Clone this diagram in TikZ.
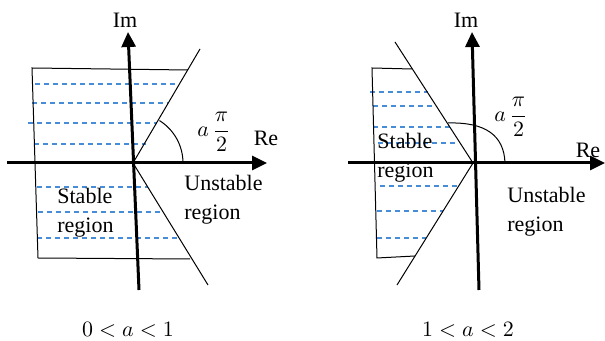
\documentclass[tikz,border=0pt]{standalone}
\usepackage{amsmath}
\usepackage{fontspec}
\setmainfont{Liberation Serif}
\usetikzlibrary{arrows.meta}
\definecolor{gridblue}{RGB}{70,140,215}
\tikzset{
  spaxis/.style={draw, line width=1.5pt, -{Triangle[length=7.5pt, width=7pt]}},
  spbound/.style={draw, line width=0.5pt},
  spgrid/.style={draw, gridblue, line width=0.7pt, dash pattern=on 2.5pt off 2pt},
  splabel/.style={font=\fontsize{11}{14.5}\selectfont, inner sep=0pt},
  spregion/.style={splabel, anchor=west, align=left}
}

\begin{document}
\begin{tikzpicture}[x=0.5pt, y=-0.5pt]
  \useasboundingbox (0,0) rectangle (605,341);
  % name/x/y, in pixels of the picture, y down
  \foreach \n/\x/\y in {%
      oA/133/163, imA/128/32, imbA/139/290, reA/267/163, relA/7/163,
      upA/200/49, loA/208/285, tlA/32/68, trA/188/70, blA/38/258, brA/190/259,
      arcA/183/163,
      oB/473/163, imB/472/32, imbB/479/290, reB/605/163, relB/348/163,
      upB/395/42, loB/397/285, tlB/372/68, trB/412/69, blB/377/258, brB/415/256,
      arcsB/505/163, arceB/448/123}
    { \coordinate (\n) at (\x, \y); }
  % stable side: the grid, y/from/to
  \foreach \y/\a/\b in {%
      84/35/178, 103/32/168, 123/28/157, 144/34/146,
      187/37/148, 212/38/163, 238/37/178}
    { \coordinate (gl) at (\a, \y); \coordinate (gr) at (\b, \y);
      \draw[spgrid] (gl) -- (gr); }
  \foreach \y/\a/\b in {%
      92/370/428, 106/373/435, 127/373/450, 143/378/459,
      186/380/459, 211/377/443, 238/377/426}
    { \coordinate (gl) at (\a, \y); \coordinate (gr) at (\b, \y);
      \draw[spgrid] (gl) -- (gr); }
  % boundaries and the angle
  \draw[spbound] (trA) -- (tlA) -- (blA) -- (brA);
  \draw[spbound] (upA) -- (oA) -- (loA);
  \draw[spbound] (arcA) arc[start angle=0, end angle=58, radius=25pt];
  \draw[spbound] (trB) -- (tlB) -- (blB) -- (brB);
  \draw[spbound] (upB) -- (oB) -- (loB);
  \draw[spbound] (arcsB) .. controls (504,135) and (485,122) .. (arceB);
  % the axes
  \draw[spaxis] (relA) -- (reA);
  \draw[spaxis] (imbA) -- (imA);
  \draw[spaxis] (relB) -- (reB);
  \draw[spaxis] (imbB) -- (imB);
  % texts
  \node[splabel] (imlA) at (125,20) {Im};
  \node[splabel] (relbA) at (266,138) {Re};
  \node[splabel] (angA) at (214,132) {$a\,\dfrac{\pi}{2}$};
  \node[spregion] (stA) at (57,213) {Stable\\region};
  \node[spregion] (unA) at (184,200) {Unstable\\region};
  \node[splabel] (capA) at (128,330) {$0 < a < 1$};
  \node[splabel] (imlB) at (466,20) {Im};
  \node[splabel] (relbB) at (588,150) {Re};
  \node[splabel] (angB) at (511,117) {$a\,\dfrac{\pi}{2}$};
  \node[spregion] (stB) at (377,158) {Stable\\region};
  \node[spregion] (unB) at (507,212) {Unstable\\region};
  \node[splabel] (capB) at (468,330) {$1 < a < 2$};
\end{tikzpicture}
\end{document}
